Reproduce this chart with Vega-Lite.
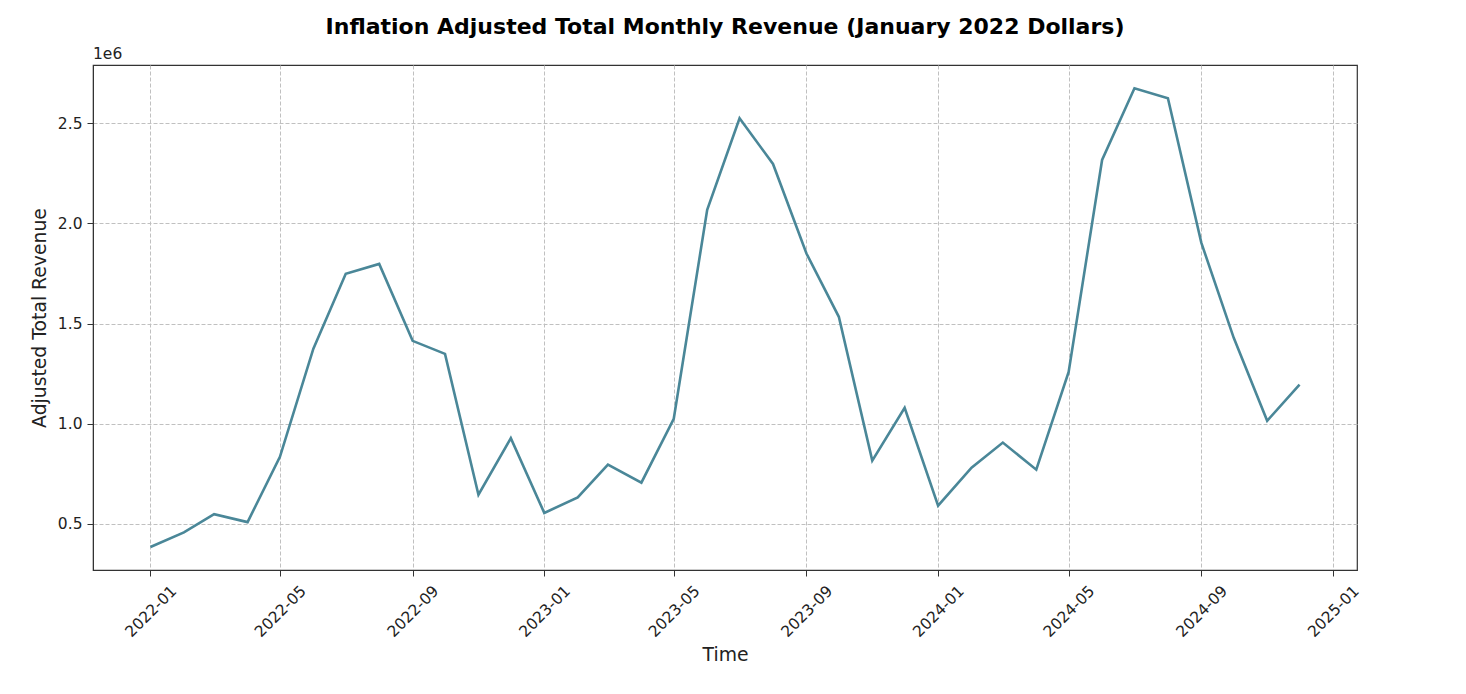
{
  "$schema": "https://vega.github.io/schema/vega-lite/v6.json",
  "width": 1264,
  "height": 505,
  "autosize": {"type": "none"},
  "padding": {"left": 93, "top": 65, "right": 109, "bottom": 124},
  "background": "white",
  "config": {
    "font": "DejaVu Sans",
    "view": {"stroke": "#333333", "strokeWidth": 1.2},
    "axis": {
      "labelFont": "DejaVu Sans",
      "titleFont": "DejaVu Sans",
      "labelColor": "#222222",
      "titleColor": "#222222",
      "titleFontWeight": "normal",
      "domainColor": "#333333",
      "tickColor": "#333333",
      "tickSize": 6,
      "gridColor": "#c0c0c0",
      "gridDash": [4, 2],
      "gridWidth": 1
    }
  },
  "title": {
    "text": "Inflation Adjusted Total Monthly Revenue (January 2022 Dollars)",
    "font": "DejaVu Sans",
    "fontSize": 22,
    "fontWeight": "bold",
    "color": "#000000",
    "anchor": "middle",
    "frame": "group",
    "offset": 8
  },
  "data": {
    "values": [
      {"month": "2022-01-01", "revenue": 385000},
      {"month": "2022-02-01", "revenue": 458000},
      {"month": "2022-03-01", "revenue": 549000},
      {"month": "2022-04-01", "revenue": 509000},
      {"month": "2022-05-01", "revenue": 835000},
      {"month": "2022-06-01", "revenue": 1375000},
      {"month": "2022-07-01", "revenue": 1749000},
      {"month": "2022-08-01", "revenue": 1798000},
      {"month": "2022-09-01", "revenue": 1414000},
      {"month": "2022-10-01", "revenue": 1349000},
      {"month": "2022-11-01", "revenue": 646000},
      {"month": "2022-12-01", "revenue": 928000},
      {"month": "2023-01-01", "revenue": 555000},
      {"month": "2023-02-01", "revenue": 632000},
      {"month": "2023-03-01", "revenue": 796000},
      {"month": "2023-04-01", "revenue": 706000},
      {"month": "2023-05-01", "revenue": 1025000},
      {"month": "2023-06-01", "revenue": 2068000},
      {"month": "2023-07-01", "revenue": 2525000},
      {"month": "2023-08-01", "revenue": 2297000},
      {"month": "2023-09-01", "revenue": 1850000},
      {"month": "2023-10-01", "revenue": 1534000},
      {"month": "2023-11-01", "revenue": 816000},
      {"month": "2023-12-01", "revenue": 1080000},
      {"month": "2024-01-01", "revenue": 591000},
      {"month": "2024-02-01", "revenue": 781000},
      {"month": "2024-03-01", "revenue": 906000},
      {"month": "2024-04-01", "revenue": 771000},
      {"month": "2024-05-01", "revenue": 1259000},
      {"month": "2024-06-01", "revenue": 2317000},
      {"month": "2024-07-01", "revenue": 2675000},
      {"month": "2024-08-01", "revenue": 2625000},
      {"month": "2024-09-01", "revenue": 1903000},
      {"month": "2024-10-01", "revenue": 1429000},
      {"month": "2024-11-01", "revenue": 1015000},
      {"month": "2024-12-01", "revenue": 1195000}
    ]
  },
  "layer": [
    {
      "mark": {"type": "line", "color": "#4a8798", "strokeWidth": 2.6, "strokeJoin": "miter"},
      "encoding": {
        "x": {
          "field": "month",
          "type": "temporal",
          "title": "Time",
          "scale": {"domain": ["2021-11-08T18:00:00", "2025-01-23T06:00:00"]},
          "axis": {
            "values": [
              {"year": 2022, "month": 1, "date": 1},
              {"year": 2022, "month": 5, "date": 1},
              {"year": 2022, "month": 9, "date": 1},
              {"year": 2023, "month": 1, "date": 1},
              {"year": 2023, "month": 5, "date": 1},
              {"year": 2023, "month": 9, "date": 1},
              {"year": 2024, "month": 1, "date": 1},
              {"year": 2024, "month": 5, "date": 1},
              {"year": 2024, "month": 9, "date": 1},
              {"year": 2025, "month": 1, "date": 1}
            ],
            "format": "%Y-%m",
            "labelAngle": -45,
            "labelAlign": "center",
            "labelBaseline": "middle",
            "labelPadding": 35,
            "labelFontSize": 15.5,
            "labelFlush": false,
            "labelOverlap": false,
            "titleFontSize": 18.8,
            "titlePadding": 6,
            "grid": true
          }
        },
        "y": {
          "field": "revenue",
          "type": "quantitative",
          "title": "Adjusted Total Revenue",
          "scale": {"domain": [270000, 2791000], "nice": false, "zero": false},
          "axis": {
            "values": [500000, 1000000, 1500000, 2000000, 2500000],
            "labelExpr": "format(datum.value / 1000000, '.1f')",
            "labelFontSize": 15.5,
            "labelPadding": 5,
            "titleFontSize": 18.8,
            "titlePadding": 8,
            "grid": true
          }
        }
      }
    },
    {
      "data": {"values": [{"label": "1e6", "t": "2021-11-08T18:00:00", "v": 2791000}]},
      "mark": {"type": "text", "align": "left", "baseline": "bottom", "dy": -3, "fontSize": 15.5, "font": "DejaVu Sans", "color": "#222222"},
      "encoding": {
        "x": {"field": "t", "type": "temporal"},
        "y": {"field": "v", "type": "quantitative"},
        "text": {"field": "label"}
      }
    }
  ]
}
